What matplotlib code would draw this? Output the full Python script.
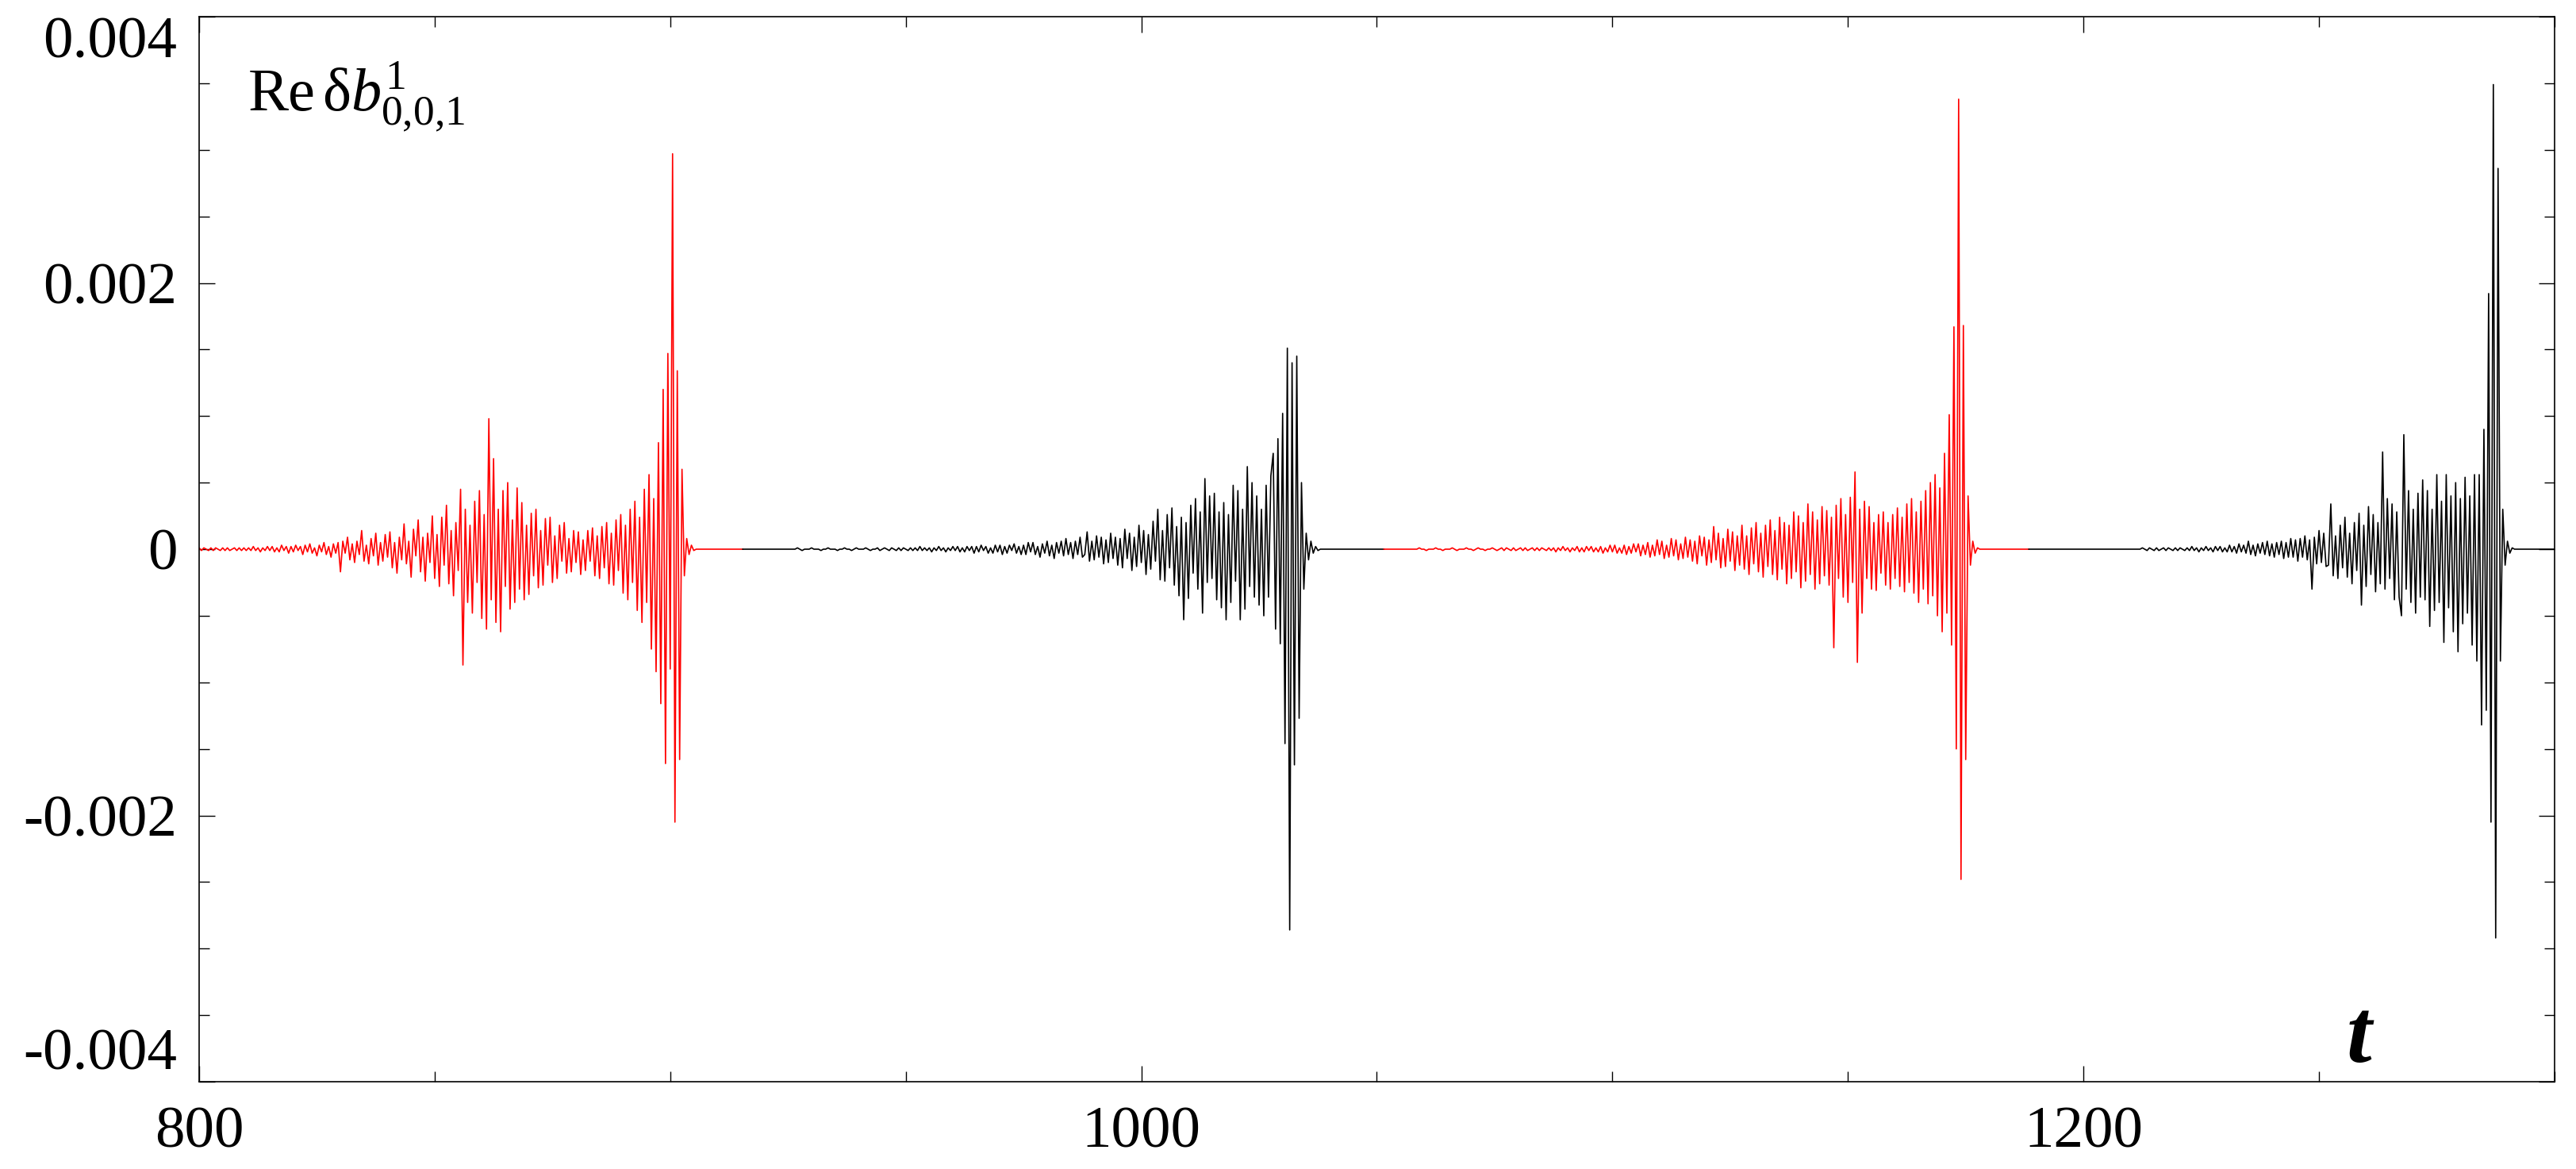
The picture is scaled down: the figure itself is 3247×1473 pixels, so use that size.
import numpy as np
import matplotlib
matplotlib.use('Agg')
import matplotlib.pyplot as plt
from matplotlib.ticker import MultipleLocator

plt.rcParams['font.family'] = 'Liberation Serif'
plt.rcParams['mathtext.fontset'] = 'custom'
plt.rcParams['mathtext.rm'] = 'Liberation Serif'
plt.rcParams['mathtext.it'] = 'Liberation Serif:italic'

SCALE = 1e-5
DT = 0.5

burst1_t0 = 800.0
burst1 = [
    1, -1, 1, 0, -1, 1, -1, 1, 0, -1, 1, -1, 1, -1, 0, 1, -1, 1, -1, 1,
    -1, 1, -1, 2, -1, 1, -2, 1, -1, 2, -1, 2, -2, 1, -2, 3, -1, 2, -3, 2,
    -2, 3, -1, 2, -4, 3, -2, 4, -3, 1, -5, 3, -2, 5, -4, 2, -6, 4, -3, 5,
    -17, 6, -3, 9, -8, 4, -10, 6, -4, 14, -9, 3, -11, 8, -5, 12, -12, 5, -9, 11,
    -6, 13, -14, 5, -18, 9, -8, 19, -11, 6, -21, 15, -5, 22, -17, 9, -24, 12, -10, 25,
    -22, 11, -28, 24, -12, 33, -26, 14, -35, 20, -16, 45, -87, 30, -40, 18, -48, 36, -25, 44,
    -52, 26, -60, 98, -38, 68, -55, 30, -62, 44, -28, 50, -45, 22, -40, 46, -30, 35, -38, 18,
    -34, 27, -20, 30, -29, 14, -27, 23, -12, 24, -25, 10, -22, 18, -9, 20, -18, 8, -17, 14,
    -10, 13, -19, 7, -16, 14, -9, 16, -20, 10, -22, 17, -14, 20, -26, 12, -27, 22, -16, 26,
    -33, 18, -38, 30, -25, 36, -46, 24, -55, 45, -40, 56, -75, 38, -92, 80, -116, 120, -161, 147,
    -90, 297, -205, 134, -158, 60, -20, 8, -4, 3, -1, 0,
]

burst2_t0 = 925.0
burst2 = [
    0, 0, 0, 0, 1, 0, -1, 0, 0, 0, 1, 0, 0, 0, -1, 0, 0, 1, 0, 0,
    0, -1, 0, 0, 1, 0, 0, -1, 0, 1, 0, 0, 0, 1, 0, -1, 0, 0, 1, -1,
    0, 1, 0, -1, 1, 0, -1, 1, -1, 1, 0, -1, 1, -1, 1, -1, 2, -1, 1, -1,
    1, -2, 1, -1, 2, -1, 1, -2, 1, -1, 2, -1, 2, -2, 1, -2, 2, -1, 2, -3,
    2, -2, 3, -1, 2, -3, 1, -3, 3, -2, 3, -4, 2, -3, 3, -1, 4, -3, 2, -4,
    3, -4, 5, -2, 5, -4, 2, -6, 4, -3, 6, -5, 3, -7, 5, -3, 6, -5, 8, -4,
    5, -7, 6, -4, 9, -6, -4, 13, -9, 6, -8, 10, -6, 9, -11, 7, -10, 12, -7, 9,
    -12, 8, -14, 15, -7, 12, -16, 9, -13, 18, -10, 14, -19, 11, -15, 21, -9, 30, -23, 14,
    -24, 26, -14, 31, -27, 17, -35, 24, -53, 20, -37, 33, -18, 38, -30, 28, -48, 53, -25, 40,
    -22, 42, -38, 28, -44, 35, -53, 26, -40, 48, -24, 44, -53, 30, -45, 62, -28, 50, -36, 40,
    -42, 30, -50, 48, -36, 55, 72, -60, 83, -71, 102, -146, 151, -286, 140, -162, 145, -127,
    50, -30, 12, -8, 6, -3, 2, -1, 0,
]

burst3_t0 = 1058.0
burst3 = [
    0, 0, 1, 0, 0, -1, 0, 0, 0, 1, 0, 0, -1, 0, 0, 0, 1, 0, -1, 0,
    0, 0, 1, 0, 0, -1, 0, 1, 0, 0, -1, 0, 0, 1, 0, -1, 0, 1,
    -1, 1, 0, -1, 1, -1, 0, 1, -1, 1, -1, 0, 1, -1, 1, -1, 1, 0, -1, 1,
    -1, 1, -2, 1, -1, 2, -1, 1, -2, 1, -1, 2, -2, 1, -2, 2, -1, 2, -2, 1,
    -2, 2, -3, 1, -2, 3, -2, 3, -3, 1, -3, 3, -4, 2, -3, 4, -2, 4, -5, 3,
    -4, 5, -6, 3, -5, 7, -4, 6, -7, 3, -6, 8, -5, 7, -8, 4, -7, 9, -6, 7,
    -9, 6, -11, 10, -5, 9, -12, 7, -10, 17, -8, 12, -14, 8, -13, 15, -9, 13, -16, 10,
    -12, 18, -15, 10, -19, 16, -11, 20, -17, 12, -21, 18, -13, 22, -19, 14, -23, 24, -15, 20,
    -26, 18, -22, 28, -17, 25, -29, 20, -24, 34, -19, 28, -30, 22, -26, 32, -20, 29, -27, 24,
    -74, 33, -22, 38, -36, 26, -40, 39, -25, 58, -85, 30, -48, 36, -22, 32, -30, 20, -31, 26,
    -18, 28, -27, 20, -30, 26, -22, 31, -28, 24, -32, 34, -25, 38, -33, 28, -40, 36, -30, 44,
    -41, 50, -35, 56, -50, 46, -62, 72, -48, 101,
    -72, 167, -150, 338, -248, 168, -158, 40, -12, 6, -3, 1, 0,
]

burst4_t0 = 1212.0
burst4 = [
    0, 1, 0, -1, 1, 0, -1, 1, -1, 0, 1, -1, 1, 0, -1, 1, -1, 1, 0, -1,
    1, -1, 2, -1, 1, -2, 1, -1, 2, -1, 1, -2, 2, -1, 2, -2, 1, -2, 3, -2,
    2, -3, 4, -2, 3, -3, 6, -4, 3, -5, 4, -3, 5, -4, 6, -5, 4, -6, 5, -4,
    6, -7, 5, -6, 8, -6, 7, -9, 8, -6, 10, -8, 7, -30, 9, -11, 14, -10, 12, -13,
    -12, 34, -20, 10, -22, 18, -14, 24, -21, 12, -26, 20, -16, 27, -42, 18, -28, 32, -19, 26,
    -32, 20, -26, 73, -30, 38, -22, 34, -38, 28, -36, -50, 86, -30, 44, -40, 30, -48, 42, -36,
    52, -38, 44, -58, 30, -46, 56, -40, 36, -70, 56, -44, 40, -62, 50, -77, 38, -56, 54, -48,
    40, -72, 56, -84, 56, -132, 90, -121, 192, -205, 349, -292, 286, -84, 30, -12, 6, -3, 1, 0,
]

seg_bounds = [800.0, 915.4, 1051.5, 1188.4, 1300.0]
seg_colors = ['#ff0000', 'black', '#ff0000', 'black']

y_ticks = [-0.004, -0.002, 0.0, 0.002, 0.004]
y_labels = ['-0.004', '-0.002', '0', '0.002', '0.004']
x_ticks = [800, 1000, 1200]
x_labels = ['800', '1000', '1200']

bursts = [(burst1_t0, burst1), (burst2_t0, burst2), (burst3_t0, burst3), (burst4_t0, burst4)]
t_all = np.concatenate([t0 + DT * np.arange(len(v)) for t0, v in bursts])
y_all = np.concatenate([np.array(v, dtype=float) * SCALE for t0, v in bursts])

fig = plt.figure(figsize=(32.48, 14.73), dpi=100)
ax = fig.add_axes([251 / 3248, 1 - 1363 / 1473, (3220 - 251) / 3248, (1363 - 21) / 1473])

for i, c in enumerate(seg_colors):
    a, b = seg_bounds[i], seg_bounds[i + 1]
    m = (t_all >= a) & (t_all < b)
    tt = np.concatenate([[a], t_all[m], [b]])
    yy = np.concatenate([[0.0], y_all[m], [0.0]])
    ax.plot(tt, yy, color=c, lw=1.2)

ax.set_xlim(800, 1300)
ax.set_ylim(-0.004, 0.004)
ax.set_xticks(x_ticks)
ax.set_xticklabels(x_labels)
ax.set_yticks(y_ticks)
ax.set_yticklabels(y_labels)
ax.xaxis.set_minor_locator(MultipleLocator(50))
ax.yaxis.set_minor_locator(MultipleLocator(0.0005))
ax.tick_params(which='both', direction='in', top=True, right=True, width=1.0, labelsize=54)
ax.tick_params(which='major', length=14.5)
ax.tick_params(which='minor', length=9.5)
ax.tick_params(axis='y', pad=20)
ax.tick_params(axis='x', pad=22)
for s in ax.spines.values():
    s.set_linewidth(1.2)

ylabs = ax.get_yticklabels()
ylabs[0].set_va('bottom')
ylabs[-1].set_va('top')

ax.text(0.0205, 0.959, r'$\mathrm{Re\,δ}b^{1}_{0{,}0{,}1}$', transform=ax.transAxes,
        ha='left', va='top', fontsize=55)
ax.text(1258.4, -0.00385, 't', ha='center', va='baseline', fontsize=82,
        style='italic', fontweight='bold')

fig.savefig('out.png', dpi=100)
